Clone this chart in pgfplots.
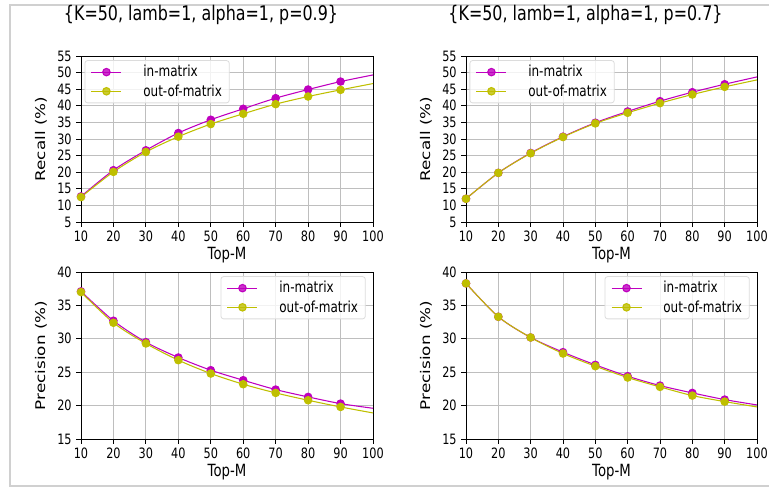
\documentclass[border=0pt]{standalone}
\usepackage{fontspec}
\setmainfont{DejaVu Sans}
\newfontfamily\squeezed[FakeStretch=0.79]{DejaVu Sans}
\newfontfamily\widened[FakeStretch=1.26]{DejaVu Sans}
\usepackage{pgfplots}
\pgfplotsset{compat=1.18}

\definecolor{mpm}{RGB}{191,0,191}
\definecolor{mpy}{RGB}{191,191,0}
\definecolor{gridc}{RGB}{190,190,190}
\definecolor{framec}{RGB}{208,208,208}
\definecolor{legc}{RGB}{220,220,220}

\pgfplotsset{
  subplot/.style={
    scale only axis,
    anchor=south west,
    xmin=10, xmax=100,
    xtick={10,20,...,100},
    grid=major,
    grid style={color=gridc, line width=0.6pt},
    axis line style={line width=0.7pt},
    tick style={black, line width=0.7pt},
    tick align=outside,
    major tick length=3.5pt,
    xtick pos=bottom, ytick pos=left,
    /pgf/number format/assume math mode=true,
    tick label style={font=\squeezed\fontsize{10.7}{12}\selectfont},
    xlabel={Top-M},
    every axis x label/.style={at={(axis description cs:0.5,0)}, anchor=center, yshift=-24.5pt,
      font=\squeezed\fontsize{12.6}{14}\selectfont},
    every axis y label/.style={at={(axis description cs:0,0.5)}, rotate=90, anchor=center, yshift=30pt,
      font=\widened\fontsize{10}{12}\selectfont},
    title style={font=\squeezed\fontsize{15.1}{17}\selectfont, at={(axis description cs:0.5,1)}, anchor=center, yshift=25pt, xshift=-19.5pt},
    legend style={font=\squeezed\fontsize{11.4}{13}\selectfont, draw=legc, line width=0.6pt, rounded corners=2pt,
      fill=white, fill opacity=0.8, text opacity=1, inner xsep=4.5pt, inner ysep=1.5pt, row sep=0pt,
      nodes={inner xsep=1pt, inner ysep=2.1pt},
      /tikz/every odd column/.append style={column sep=15pt}},
    legend cell align=left,
    legend image code/.code={\draw[#1, line width=0.8pt, mark indices={2}] plot coordinates {(0pt,0pt) (11.25pt,0pt) (22.5pt,0pt)};},
  },
  inm/.style={color=mpm, line width=0.8pt, smooth, mark=*, mark size=2.8pt, mark indices={1,2,3,4,5,6,7,8,9}, mark options={fill=mpm, draw=mpm}},
  outm/.style={color=mpy, line width=0.8pt, smooth, mark=*, mark size=2.8pt, mark indices={1,2,3,4,5,6,7,8,9}, mark options={fill=mpy, draw=mpy}},
}

\begin{document}
\begin{tikzpicture}
\useasboundingbox (0,0) rectangle (576.75pt,365.25pt);
% screenshot frame
\draw[framec, line width=1.5pt] (576.75pt,361.5pt) -- (7.5pt,361.5pt) -- (7.5pt,0.75pt) -- (576.75pt,0.75pt);

% top left
\begin{axis}[subplot, at={(60.75pt,198.75pt)}, width=219pt, height=124.5pt,
  ymin=5, ymax=55, ytick={5,10,...,55}, ylabel={Recall (\%)},
  title={\{K=50, lamb=1, alpha=1, p=0.9\}},
  legend style={at={(0.012,0.975)}, anchor=north west}]
\addplot[inm] coordinates {(10,12.7)(20,20.6)(30,26.6)(40,31.8)(50,35.8)(60,39.1)(70,42.3)(80,44.9)(90,47.3)(100,49.3)};
\addlegendentry{in-matrix}
\addplot[outm] coordinates {(10,12.5)(20,20.1)(30,26.1)(40,30.7)(50,34.5)(60,37.6)(70,40.5)(80,42.8)(90,44.8)(100,46.7)};
\addlegendentry{out-of-matrix}
\end{axis}

% top right
\begin{axis}[subplot, at={(349.5pt,198.75pt)}, width=218.25pt, height=124.5pt,
  ymin=5, ymax=55, ytick={5,10,...,55}, ylabel={Recall (\%)},
  title={\{K=50, lamb=1, alpha=1, p=0.7\}},
  legend style={at={(0.012,0.975)}, anchor=north west}]
\addplot[inm] coordinates {(10,12.0)(20,19.8)(30,25.8)(40,30.7)(50,34.9)(60,38.3)(70,41.4)(80,44.1)(90,46.5)(100,48.7)};
\addlegendentry{in-matrix}
\addplot[outm] coordinates {(10,12.0)(20,19.8)(30,25.7)(40,30.6)(50,34.7)(60,37.9)(70,40.8)(80,43.4)(90,45.7)(100,47.8)};
\addlegendentry{out-of-matrix}
\end{axis}

% bottom left
\begin{axis}[subplot, at={(60.75pt,36pt)}, width=219pt, height=125.25pt,
  ymin=15, ymax=40, ytick={15,20,...,40}, ylabel={Precision (\%)},
  legend style={at={(0.975,0.975)}, anchor=north east}]
\addplot[inm] coordinates {(10,37.1)(20,32.7)(30,29.5)(40,27.2)(50,25.3)(60,23.8)(70,22.4)(80,21.3)(90,20.3)(100,19.6)};
\addlegendentry{in-matrix}
\addplot[outm] coordinates {(10,37.0)(20,32.4)(30,29.3)(40,26.8)(50,24.8)(60,23.2)(70,21.9)(80,20.8)(90,19.8)(100,18.9)};
\addlegendentry{out-of-matrix}
\end{axis}

% bottom right
\begin{axis}[subplot, at={(349.5pt,36pt)}, width=218.25pt, height=125.25pt,
  ymin=15, ymax=40, ytick={15,20,...,40}, ylabel={Precision (\%)},
  legend style={at={(0.975,0.975)}, anchor=north east}]
\addplot[inm] coordinates {(10,38.3)(20,33.3)(30,30.2)(40,28.0)(50,26.1)(60,24.4)(70,23.0)(80,21.9)(90,20.9)(100,20.1)};
\addlegendentry{in-matrix}
\addplot[outm] coordinates {(10,38.3)(20,33.3)(30,30.2)(40,27.8)(50,25.9)(60,24.2)(70,22.8)(80,21.5)(90,20.6)(100,19.8)};
\addlegendentry{out-of-matrix}
\end{axis}
\end{tikzpicture}
\end{document}
